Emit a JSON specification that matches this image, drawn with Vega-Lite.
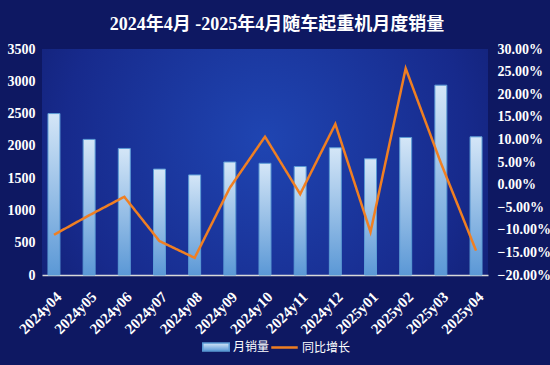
{
  "$schema": "https://vega.github.io/schema/vega-lite/v6.json",
  "width": 446,
  "height": 226,
  "autosize": {"type": "none"},
  "padding": {"left": 42, "top": 49, "right": 62, "bottom": 90},
  "background": "#0e1862",
  "title": {
    "text": "2024年4月 -2025年4月随车起重机月度销量",
    "font": "Liberation Serif, Noto Sans CJK SC",
    "fontSize": 18,
    "fontWeight": "bold",
    "color": "#ffffff",
    "anchor": "middle",
    "dx": 12,
    "offset": 8
  },
  "config": {
    "view": {
      "stroke": null,
      "fill": {
        "gradient": "radial",
        "x1": 0.5, "y1": 0.45, "r1": 0,
        "x2": 0.5, "y2": 0.45, "r2": 0.75,
        "stops": [
          {"offset": 0, "color": "#1f45b2"},
          {"offset": 0.6, "color": "#172a8c"},
          {"offset": 1, "color": "#0e1862"}
        ]
      }
    },
    "axis": {
      "labelFont": "Liberation Serif",
      "labelFontSize": 14,
      "labelFontWeight": "bold",
      "labelColor": "#ffffff",
      "grid": false,
      "ticks": false,
      "domain": false,
      "title": null
    },
    "legend": {
      "labelFont": "Noto Sans CJK SC",
      "labelFontSize": 12,
      "labelColor": "#ffffff"
    }
  },
  "data": {
    "values": [
      {"month": "2024y04", "sales": 2500, "yoy": -0.111},
      {"month": "2024y05", "sales": 2100, "yoy": -0.068},
      {"month": "2024y06", "sales": 1960, "yoy": -0.027},
      {"month": "2024y07", "sales": 1640, "yoy": -0.125},
      {"month": "2024y08", "sales": 1550, "yoy": -0.162},
      {"month": "2024y09", "sales": 1750, "yoy": -0.007},
      {"month": "2024y10", "sales": 1730, "yoy": 0.106},
      {"month": "2024y11", "sales": 1680, "yoy": -0.021},
      {"month": "2024y12", "sales": 1970, "yoy": 0.134},
      {"month": "2025y01", "sales": 1800, "yoy": -0.105},
      {"month": "2025y02", "sales": 2130, "yoy": 0.257},
      {"month": "2025y03", "sales": 2940, "yoy": 0.048},
      {"month": "2025y04", "sales": 2140, "yoy": -0.146}
    ]
  },
  "encoding": {
    "x": {
      "field": "month",
      "type": "ordinal",
      "sort": null,
      "scale": {"paddingInner": 0.66, "paddingOuter": 0.17},
      "axis": {
        "labelAngle": -45,
        "labelPadding": 14,
        "labelFontSize": 15,
        "domain": true,
        "domainColor": "#d9d9d9",
        "domainWidth": 1.5
      }
    }
  },
  "layer": [
    {
      "mark": {
        "type": "bar",
        "strokeWidth": 1,
        "fill": {"gradient": "linear", "x1": 0, "y1": 0, "x2": 0, "y2": 1,
          "stops": [{"offset": 0, "color": "#d4e6f7"}, {"offset": 1, "color": "#5b98d6"}]}
      },
      "encoding": {
        "y": {
          "field": "sales",
          "type": "quantitative",
          "scale": {"domain": [0, 3500], "nice": false},
          "axis": {"values": [0, 500, 1000, 1500, 2000, 2500, 3000, 3500], "format": "d", "labelPadding": 7}
        },
        "stroke": {
          "datum": "月销量",
          "type": "nominal",
          "scale": {"domain": ["月销量"], "range": ["#5b9bd5"]},
          "legend": {
            "title": null,
            "orient": "none",
            "legendX": 160,
            "legendY": 284,
            "symbolType": "M-1,-0.3H1V0.3H-1Z",
            "symbolSize": 700,
            "symbolOffset": 0,
            "labelOffset": 3
          }
        }
      }
    },
    {
      "mark": {"type": "line", "strokeWidth": 2.5, "stroke": "#f07f22"},
      "encoding": {
        "y": {
          "field": "yoy",
          "type": "quantitative",
          "scale": {"domain": [-0.2, 0.3], "nice": false},
          "axis": {
            "orient": "right",
            "format": ".2%",
            "values": [-0.2, -0.15, -0.1, -0.05, 0, 0.05, 0.1, 0.15, 0.2, 0.25, 0.3],
            "labelPadding": 9
          }
        },
        "strokeDash": {
          "datum": "同比增长",
          "type": "nominal",
          "scale": {"domain": ["同比增长"], "range": [[1, 0]]},
          "legend": {
            "title": null,
            "orient": "none",
            "legendX": 228,
            "legendY": 284,
            "symbolType": "stroke",
            "symbolStrokeColor": "#f07f22",
            "symbolStrokeWidth": 2.5,
            "symbolSize": 700,
            "labelOffset": 3
          }
        }
      }
    }
  ],
  "resolve": {"scale": {"y": "independent"}}
}
